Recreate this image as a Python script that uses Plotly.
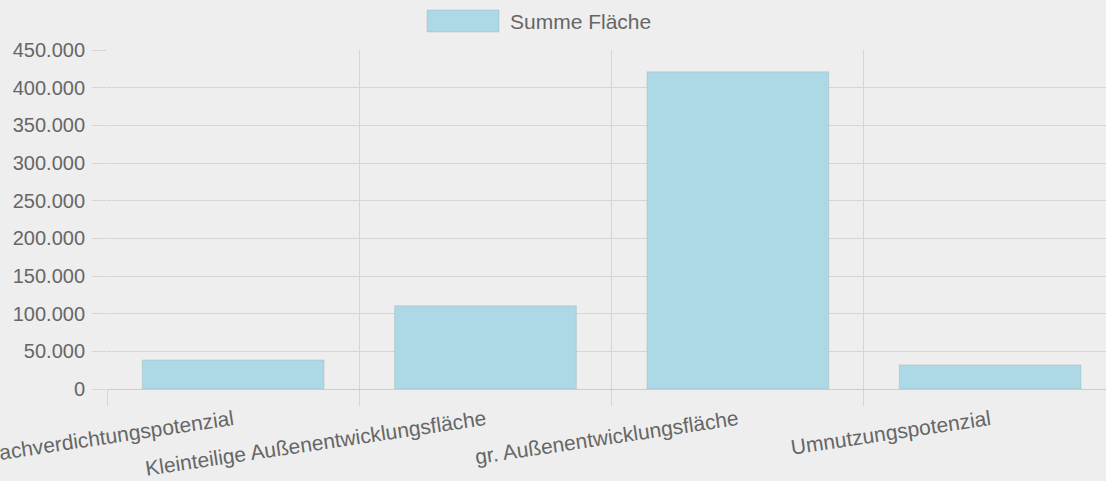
import plotly.graph_objects as go

categories = ["Nachverdichtungspotenzial", "Kleinteilige Außenentwicklungsfläche",
              "gr. Außenentwicklungsfläche", "Umnutzungspotenzial"]
values = [38500, 110500, 421000, 32000]
series_name = "Summe Fläche"

W, H = 1106, 481
L, T, B = 107, 50, 389
PW = W - L
PH = B - T
CAT_W = 252.33

def px(x):
    return (x - L) / PW

def py(y):
    return (B - y) / PH

BG = "#eeeeee"
GRID = "#d5d5d5"
TXT = "#666666"
FONT = "Liberation Sans, Arial, sans-serif"

fig = go.Figure(go.Bar(
    x=categories, y=values, name=series_name,
    marker=dict(color="#add8e6", line=dict(color="rgba(150,170,175,0.35)", width=1)),
    showlegend=False,
))

fig.update_layout(
    width=W, height=H,
    margin=dict(l=L, r=0, t=T, b=H - B, pad=0, autoexpand=False),
    paper_bgcolor=BG, plot_bgcolor=BG,
    separators=",.",
    bargap=0.28,
    font=dict(family=FONT, size=20, color=TXT),
    xaxis=dict(
        range=[-0.5, -0.5 + PW / CAT_W], automargin=False,
        tickson="boundaries", showgrid=True, gridcolor=GRID, gridwidth=1,
        ticks="outside", ticklen=16, tickcolor=GRID, tickwidth=1,
        tickangle=-8.5, showline=False, zeroline=False,
        ticklabelstandoff=14,
        tickfont=dict(family=FONT, size=21, color=TXT),
    ),
    yaxis=dict(
        range=[0, 450000], dtick=50000, tickformat=",d", automargin=False,
        showgrid=True, gridcolor=GRID, gridwidth=1,
        ticks="outside", ticklen=14, tickcolor=GRID, tickwidth=1,
        zeroline=True, zerolinecolor="#cccccc", zerolinewidth=1,
        showline=False, ticklabelstandoff=3,
        tickfont=dict(family=FONT, size=20, color=TXT),
    ),
    shapes=[dict(type="rect", xref="paper", yref="paper",
                 x0=px(427), x1=px(499), y0=py(32), y1=py(10),
                 fillcolor="#add8e6", line=dict(color="rgba(150,170,175,0.35)", width=1))],
    annotations=[dict(text=series_name, xref="paper", yref="paper",
                      x=px(508), y=py(21), xanchor="left", yanchor="middle",
                      showarrow=False, font=dict(family=FONT, size=21, color=TXT))],
)

fig.write_html("out.html", config={"displayModeBar": False},
               post_script="document.body.style.margin='0';document.body.style.overflow='hidden';")
